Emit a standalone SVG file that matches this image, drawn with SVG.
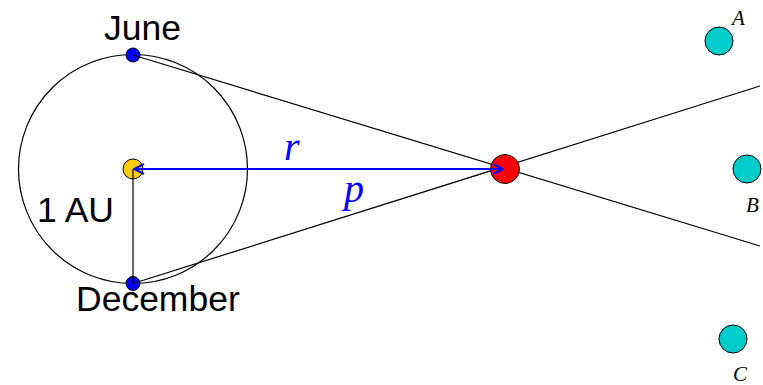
<svg xmlns="http://www.w3.org/2000/svg" width="763" height="385" viewBox="0 0 763 385">
<style>
.lbl{font-family:"Liberation Sans",Arial,sans-serif;font-size:35.5px;fill:#000}
.var{font-family:"Liberation Serif","Times New Roman",serif;font-style:italic;font-size:40px;fill:#0000FF}
.star{font-family:"Liberation Serif","Times New Roman",serif;font-style:italic;font-size:21px;fill:#000}
.ln{stroke:#000;stroke-width:1.2;fill:none}
.dot{stroke:#000;stroke-width:1}
</style>
<defs>
<marker id="ah" viewBox="0 0 12 12" refX="11" refY="6" markerWidth="12" markerHeight="12" markerUnits="userSpaceOnUse" orient="auto-start-reverse">
<path d="M1,1 L11,6 L1,11" fill="none" stroke="#0000FF" stroke-width="2"/>
</marker>
</defs>
<g id="orbit"><circle cx="133" cy="169" r="114.5" class="ln"/></g>
<g id="sun"><circle cx="133" cy="169" r="10" fill="#FFCC00" class="dot"/></g>
<g id="june"><circle cx="133" cy="55" r="7" fill="#0000FF" class="dot"/><text x="104" y="40" class="lbl">June</text></g>
<g id="december"><circle cx="133" cy="283.5" r="7" fill="#0000FF" class="dot"/><text x="76" y="311" class="lbl">December</text></g>
<g id="connectors">
<line x1="133" y1="55" x2="760" y2="246" class="ln"/>
<line x1="133" y1="283.5" x2="760" y2="86" class="ln"/>
<line x1="133" y1="169" x2="133" y2="283.5" class="ln"/>
</g>
<g id="planet"><circle cx="505" cy="169" r="14.5" fill="#FF0000" class="dot"/></g>
<g id="arrow"><line x1="134" y1="169" x2="503" y2="169" stroke="#0000FF" stroke-width="2.2" marker-start="url(#ah)" marker-end="url(#ah)"/></g>
<g id="labels">
<text x="37" y="222" class="lbl">1 AU</text>
<text x="284" y="160" class="var">r</text>
<text x="344" y="202" class="var">p</text>
</g>
<g id="starA"><circle cx="719" cy="41" r="14" fill="#00CCCC" class="dot"/><text x="732" y="25" class="star">A</text></g>
<g id="starB"><circle cx="747" cy="169" r="14" fill="#00CCCC" class="dot"/><text x="746" y="212" class="star">B</text></g>
<g id="starC"><circle cx="733" cy="339" r="14" fill="#00CCCC" class="dot"/><text x="733" y="381" class="star">C</text></g>
</svg>
